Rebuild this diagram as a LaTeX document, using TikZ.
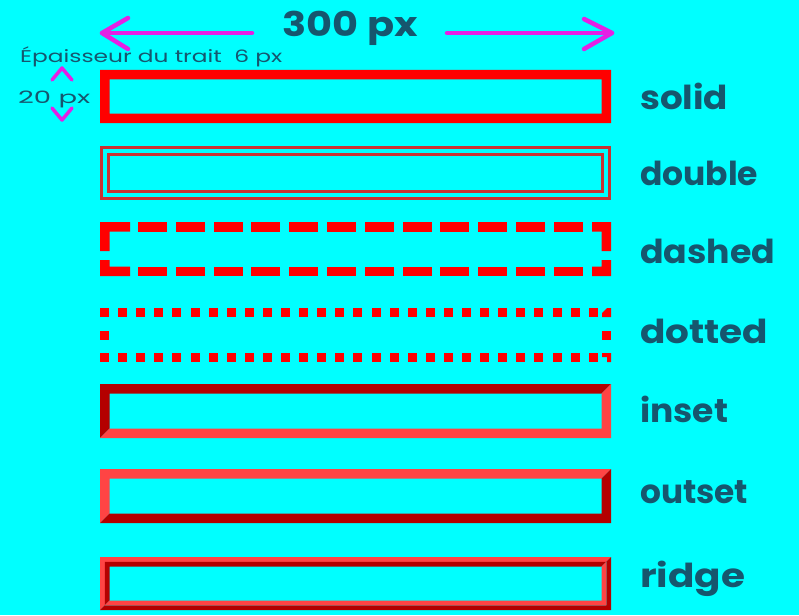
\documentclass[tikz,border=0pt]{standalone}
\usepackage{fontspec}
\usepackage{graphicx}
\setmainfont{Poppins}
\definecolor{bg}{RGB}{0,255,255}
\definecolor{bred}{RGB}{255,0,0}
\definecolor{dred}{RGB}{180,0,0}
\definecolor{lred}{RGB}{255,68,68}
\definecolor{dbl}{RGB}{200,50,50}
\definecolor{txt}{RGB}{22,86,110}
\definecolor{mag}{RGB}{228,32,228}
\newcommand\bevelbox[7]{%
  \fill[#6] (#1,#2) -- (#3,#2) -- ({#3-#5},{#2+#5}) -- ({#1+#5},{#2+#5}) -- ({#1+#5},{#4-#5}) -- (#1,#4) -- cycle;
  \fill[#7] (#3,#2) -- (#3,#4) -- (#1,#4) -- ({#1+#5},{#4-#5}) -- ({#3-#5},{#4-#5}) -- ({#3-#5},{#2+#5}) -- cycle;}
\tikzset{
  lbl/.style={anchor=base west, text=txt, font=\fontsize{33}{36}\selectfont\bfseries, inner sep=0pt},
  small/.style={anchor=base west, text=txt, font=\fontsize{17}{20}\selectfont, inner sep=0pt},
  magline/.style={draw=mag, line width=4.5pt, line cap=round, line join=round},
}
\begin{document}
\begin{tikzpicture}[x=1pt,y=-1pt]
\fill[bg] (0,0) rectangle (799,615);
\useasboundingbox (0,0) rectangle (799,615);
% top dimension
\node[anchor=base, text=txt, font=\fontsize{34}{38}\selectfont\bfseries, inner sep=0pt] (t300) at (350,37) {\resizebox{135pt}{\height}{300 px}};
\coordinate (la) at (252,33); \coordinate (lt) at (102,33);
\coordinate (ra) at (447,33); \coordinate (rt) at (612,33);
\draw[magline] (la) -- (lt);
\draw[magline] (128,18) -- (lt) -- (128,49);
\draw[magline] (ra) -- (rt);
\draw[magline] (584,19) -- (rt) -- (584,49);
\node[small] (ep) at (20,63) {\resizebox{262pt}{\height}{Épaisseur du trait\ \ 6 px}};
\node[small] (h20) at (18,104) {\resizebox{72pt}{\height}{20 px}};
\draw[magline, line width=3.5pt] (52,80) -- (62,68) -- (72,80);
\draw[magline, line width=3.5pt] (52,108) -- (62,120) -- (72,108);
% solid
\fill[bred, even odd rule] (100,70) rectangle (611,123) (109.5,79.5) rectangle (601.5,113.5);
% double
\draw[dbl, line width=3pt] (101.5,147.5) rectangle (609.5,198.5);
\draw[dbl, line width=3pt] (108.5,154.5) rectangle (602.5,191.5);
% dashed
\fill[bred] (100,222) -- (130,222) -- (130,231.5) -- (109.5,231.5) -- (109.5,251) -- (100,251) -- cycle;
\fill[bred] (100,260) -- (109.5,260) -- (109.5,266.5) -- (130,266.5) -- (130,276) -- (100,276) -- cycle;
\fill[bred] (611,222) -- (592,222) -- (592,231.5) -- (601.5,231.5) -- (601.5,251) -- (611,251) -- cycle;
\fill[bred] (611,260) -- (601.5,260) -- (601.5,266.5) -- (592,266.5) -- (592,276) -- (611,276) -- cycle;
\foreach \k in {0,...,11}{
  \fill[bred] ({138+37.8*\k},222) rectangle ({167+37.8*\k},231.5);
  \fill[bred] ({138+37.8*\k},266.5) rectangle ({167+37.8*\k},276);
}
% dotted
\foreach \k in {0,...,27}{
  \fill[bred] ({100+18.1*\k},308) rectangle ({109+18.1*\k},317);
  \fill[bred] ({100+18.1*\k},353) rectangle ({109+18.1*\k},362);
}
\fill[bred] (100,331) rectangle (109,340);
\fill[bred] (602,331) rectangle (611,340);
\fill[bred] (607,308) -- (611,308) -- (611,317) -- (602,317) -- (602,313) -- cycle;
\fill[bred] (602,353) -- (611,353) -- (611,362) -- (607,362) -- (607,357) -- (602,357) -- cycle;
% inset
\bevelbox{100}{384}{611}{438}{9.5}{dred}{lred}
% outset
\bevelbox{100}{469}{611}{523}{9.5}{lred}{dred}
% ridge
\bevelbox{100}{557}{611}{610}{4.75}{lred}{dred}
\bevelbox{104.75}{561.75}{606.25}{605.25}{4.75}{dred}{lred}
% labels
\node[lbl] (l1) at (640,109) {\resizebox{88pt}{\height}{solid}};
\node[lbl] (l2) at (640,185) {\resizebox{118pt}{\height}{double}};
\node[lbl] (l3) at (640,263) {\resizebox{135pt}{\height}{dashed}};
\node[lbl] (l4) at (640,343) {\resizebox{128pt}{\height}{dotted}};
\node[lbl] (l5) at (640,422) {\resizebox{88pt}{\height}{inset}};
\node[lbl] (l6) at (640,503) {\resizebox{108pt}{\height}{outset}};
\node[lbl] (l7) at (640,587) {\resizebox{105pt}{\height}{ridge}};
\end{tikzpicture}
\end{document}
